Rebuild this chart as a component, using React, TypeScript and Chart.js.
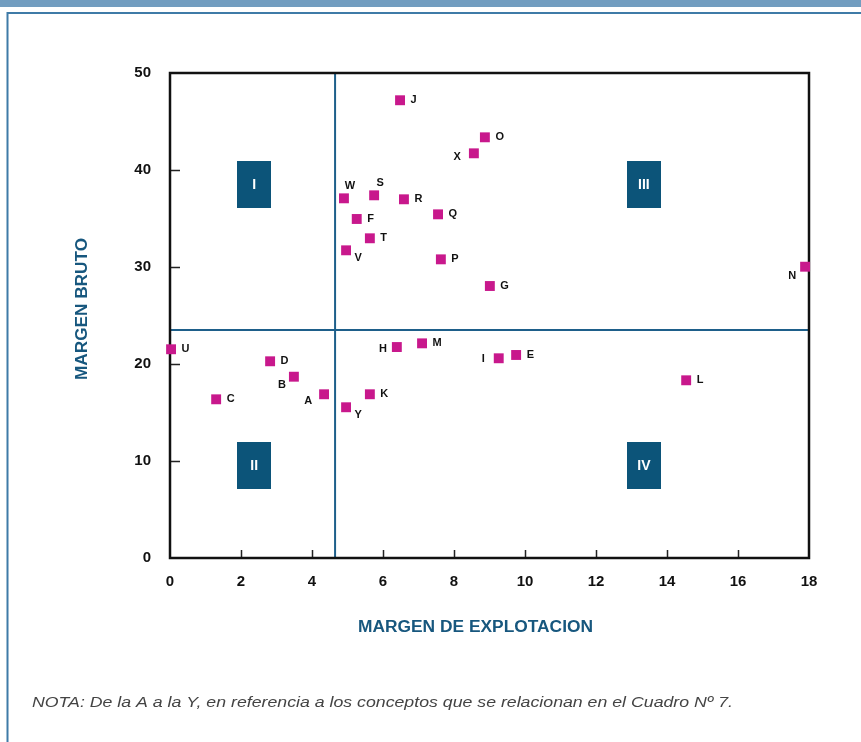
import React, { useEffect, useRef } from "react";
import { Chart, registerables } from "chart.js";

Chart.register(...registerables);

// ---- data ----
const pointNames = ["A","B","C","D","E","F","G","H","I","J","K","L","M","N","O","P","Q","R","S","T","U","V","W","X","Y"];
const margenExplotacion = [4.34,3.49,1.30,2.82,9.75,5.26,9.01,6.39,9.26,6.48,5.63,14.54,7.10,17.89,8.87,7.63,7.55,6.59,5.75,5.63,0.03,4.96,4.90,8.56,4.96];
const margenBruto = [16.88,18.69,16.36,20.28,20.93,34.95,28.04,21.75,20.59,47.19,16.88,18.32,22.13,30.03,43.37,30.79,35.43,36.98,37.39,32.96,21.52,31.72,37.08,41.72,15.54];
const dividerX = 4.65;
const dividerY = 23.5;
const quadrantNames = ["I","II","III","IV"];
const quadrantX = [2.37, 2.37, 13.35, 13.35];
const quadrantY = [38.5, 9.54, 38.5, 9.54];
const xTickStep = 2;
const yTickStep = 10;
const xTitle = "MARGEN DE EXPLOTACION";
const yTitle = "MARGEN BRUTO";
const noteText = "NOTA: De la A a la Y, en referencia a los conceptos que se relacionan en el Cuadro Nº 7.";

// ---- styles ----
const FONT = "'Liberation Sans', Arial, Helvetica, sans-serif";
const MAGENTA = "#C8188C";
const NAVY = "#0C5479";
const LINE_BLUE = "#1E5F8A";
const TITLE_BLUE = "#17577E";
const BAND = "#729DC0";
const FRAME = "#3F7BA7";
// label placement: [dx, dy, align]
const labelPlacement: Record<string, [number, number, CanvasTextAlign]> = {
  X: [-13, 4, "right"],
  N: [-9, 9, "right"],
  B: [-8, 8, "right"],
  A: [-12, 7, "right"],
  H: [-10, 2, "right"],
  I: [-14, 1, "right"],
  W: [6, -12, "center"],
  S: [6, -12, "center"],
  V: [12, 8, "center"],
  Y: [12, 8, "center"],
};
const defaultPlacement: [number, number, CanvasTextAlign] = [10.5, 0, "left"];

// draw text at (cx, cy) fitted horizontally to a target width
function fitText(ctx: CanvasRenderingContext2D, text: string, cx: number, cy: number, target: number, align: "center" | "left") {
  const w = ctx.measureText(text).width;
  const k = target / w;
  ctx.save();
  ctx.translate(cx, cy);
  ctx.scale(k, 1);
  ctx.textAlign = align;
  ctx.fillText(text, 0, 0);
  ctx.restore();
}

const decor = {
  id: "decor",
  beforeDraw(chart: any) {
    const { ctx, width, height } = chart;
    ctx.save();
    ctx.fillStyle = "#ffffff";
    ctx.fillRect(0, 0, width, height);
    ctx.fillStyle = BAND;
    ctx.fillRect(0, 0, width, 7);
    ctx.strokeStyle = FRAME;
    ctx.lineWidth = 2;
    ctx.beginPath();
    ctx.moveTo(7.5, height);
    ctx.lineTo(7.5, 13);
    ctx.lineTo(width, 13);
    ctx.stroke();
    ctx.restore();
  },
  beforeDatasetsDraw(chart: any) {
    const { ctx, chartArea, scales } = chart;
    const { left, right, top, bottom } = chartArea;
    const xs = scales.x, ys = scales.y;
    ctx.save();
    // quadrant boxes
    quadrantNames.forEach((q, i) => {
      const cx = xs.getPixelForValue(quadrantX[i]);
      const cy = ys.getPixelForValue(quadrantY[i]);
      ctx.fillStyle = NAVY;
      ctx.fillRect(Math.round(cx - 17), Math.round(cy - 23.5), 34, 47);
      ctx.fillStyle = "#ffffff";
      ctx.font = `bold 14px ${FONT}`;
      ctx.textAlign = "center";
      ctx.textBaseline = "middle";
      ctx.fillText(q, cx, cy + 1);
    });
    // quadrant lines
    const vx = xs.getPixelForValue(dividerX);
    const hy = ys.getPixelForValue(dividerY);
    ctx.strokeStyle = LINE_BLUE;
    ctx.lineWidth = 2;
    ctx.beginPath();
    ctx.moveTo(vx, top);
    ctx.lineTo(vx, bottom);
    ctx.moveTo(left, hy);
    ctx.lineTo(right, hy);
    ctx.stroke();
    // tick marks
    ctx.strokeStyle = "#222";
    ctx.lineWidth = 1.5;
    ctx.beginPath();
    ys.ticks.forEach((t: any) => {
      if (t.value <= ys.min || t.value >= ys.max) return;
      const py = Math.round(ys.getPixelForValue(t.value)) + 0.5;
      ctx.moveTo(left, py);
      ctx.lineTo(left + 10, py);
    });
    xs.ticks.forEach((t: any) => {
      if (t.value <= xs.min || t.value >= xs.max) return;
      const px = Math.round(xs.getPixelForValue(t.value)) + 0.5;
      ctx.moveTo(px, bottom);
      ctx.lineTo(px, bottom - 8);
    });
    ctx.stroke();
    // border
    ctx.strokeStyle = "#111";
    ctx.lineWidth = 2.5;
    ctx.strokeRect(left, top, right - left, bottom - top);
    ctx.restore();
  },
  afterDatasetsDraw(chart: any) {
    const { ctx } = chart;
    const meta = chart.getDatasetMeta(0);
    ctx.save();
    ctx.fillStyle = "#111";
    ctx.font = `bold 11px ${FONT}`;
    ctx.textBaseline = "middle";
    meta.data.forEach((el: any, i: number) => {
      const name = pointNames[i];
      const [dx, dy, align] = labelPlacement[name] || defaultPlacement;
      ctx.textAlign = align;
      ctx.fillText(name, el.x + dx, el.y + dy);
    });
    ctx.restore();
  },
  afterDraw(chart: any) {
    const { ctx } = chart;
    ctx.save();
    ctx.fillStyle = TITLE_BLUE;
    ctx.font = `bold 16px ${FONT}`;
    ctx.textBaseline = "middle";
    fitText(ctx, xTitle, 475.5, 628, 235, "center");
    ctx.save();
    ctx.translate(83, 309);
    ctx.rotate(-Math.PI / 2);
    fitText(ctx, yTitle, 0, 0, 142, "center");
    ctx.restore();
    ctx.restore();
    ctx.save();
    ctx.fillStyle = "#444";
    ctx.font = `italic 15.5px ${FONT}`;
    ctx.textBaseline = "middle";
    fitText(ctx, noteText, 32, 703, 701, "left");
    ctx.restore();
  },
};

export default function App() {
  const ref = useRef<HTMLCanvasElement>(null);
  useEffect(() => {
    if (!ref.current) return;
    const chart = new Chart(ref.current, {
      type: "scatter",
      data: {
        datasets: [
          {
            label: "Conceptos",
            data: margenExplotacion.map((x, i) => ({ x, y: margenBruto[i] })),
            backgroundColor: MAGENTA,
            borderWidth: 0,
            pointStyle: "rect",
            pointRadius: 7,
            clip: false as any,
          },
        ],
      },
      options: {
        animation: false,
        responsive: false,
        events: [],
        layout: { padding: { left: 0, top: 73, right: 52, bottom: 0 } },
        plugins: { legend: { display: false }, tooltip: { enabled: false } },
        scales: {
          x: {
            type: "linear",
            min: 0,
            max: 18,
            grid: { display: false, drawTicks: false },
            border: { display: false },
            ticks: {
              stepSize: xTickStep,
              padding: 15,
              color: "#111",
              font: { family: FONT, weight: "bold", size: 15 },
            },
            afterFit: (s: any) => { s.height = 184; },
          },
          y: {
            type: "linear",
            min: 0,
            max: 50,
            grid: { display: false, drawTicks: false },
            border: { display: false },
            ticks: {
              stepSize: yTickStep,
              padding: 19,
              color: "#111",
              font: { family: FONT, weight: "bold", size: 15 },
            },
            afterFit: (s: any) => { s.width = 170; },
          },
        },
      },
      plugins: [decor],
    });
    return () => chart.destroy();
  }, []);
  return (
    <div style={{ position: "absolute", left: 0, top: 0, width: 861, height: 742 }}>
      <canvas ref={ref} width={861} height={742} />
    </div>
  );
}
